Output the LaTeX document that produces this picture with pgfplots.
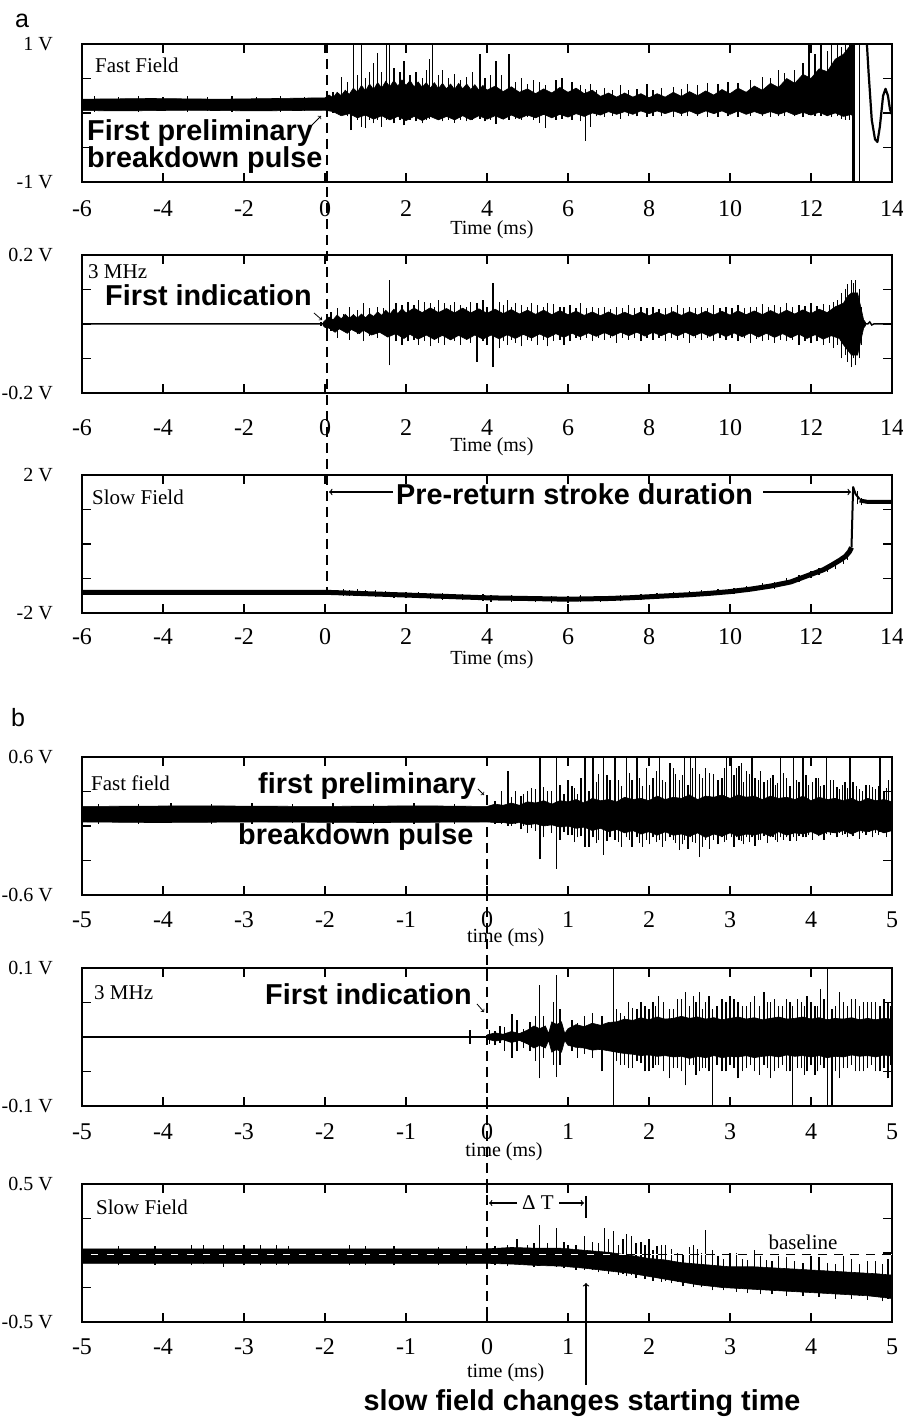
\documentclass[border=0pt]{standalone}
\usepackage{fontspec}
\setmainfont{Liberation Serif}
\newfontfamily\arial{Liberation Sans}
\usepackage{pgfplots}
\usepackage{pgfplotstable}
\pgfplotsset{compat=1.18}

\newcommand\lab{\fontsize{21}{24}\selectfont}
\newcommand\ann{\arial\bfseries\fontsize{28.8}{32}\selectfont}

\pgfplotsset{
  sig/.style={
    scale only axis, width=810pt, height=138pt, anchor=south west,
    axis line style={line width=1.6pt},
    tick style={line width=1.6pt, black},
    major tick length=9pt, tick align=inside,
    clip mode=individual,
    xticklabel style={anchor=center, font={\fontsize{24}{28}\selectfont}},
    yticklabel style={anchor=east, inner sep=0pt, xshift=-29pt, font={\fontsize{20}{24}\selectfont}},
    xlabel style={font={\fontsize{20}{24}\selectfont}, anchor=center},
  },
  band/.style={fill=black, draw=black, line width=0.6pt, line join=miter},
  spk/.style={draw=none, error bars/y dir=plus, error bars/y explicit, error bars/error mark=none,
    error bars/error bar style={draw=black, solid, line width=1.3pt}},
}

% ---------- spike tables: x, low end, high end ----------
\pgfplotstableread{
x lo hi
-5.7 0.02 0.24
-5.1 0.03 0.23
-4.6 0.02 0.24
-4.0 0.03 0.23
-3.4 0.02 0.24
-2.9 0.03 0.23
-2.3 0.02 0.24
-1.7 0.03 0.23
-1.1 0.02 0.24
-0.5 0.03 0.23
0.05 0.04 0.27
0.2 0.0 0.31
0.41 0.0 0.52
0.55 -0.05 0.45
0.64 -0.25 0.3
0.70 0.0 1.0
0.80 -0.1 0.55
0.905 -0.2 1.0
1.0 -0.22 0.5
1.1 -0.1 0.6
1.2 -0.15 0.72
1.3 -0.1 0.87
1.4 -0.2 0.6
1.51 -0.1 1.0
1.60 -0.05 1.0
1.7 -0.15 0.65
1.85 -0.1 0.6
1.95 -0.18 0.75
2.1 -0.1 0.55
2.25 -0.12 0.6
2.4 -0.15 0.5
2.5 -0.1 0.62
2.58 -0.08 0.78
2.66 -0.05 1.0
2.8 -0.1 0.55
2.9 -0.12 0.62
3.05 -0.1 0.5
3.2 -0.14 0.56
3.35 -0.1 0.48
3.5 -0.12 0.52
3.65 -0.1 0.6
3.83 -0.08 0.86
3.95 -0.12 0.5
4.08 -0.1 0.55
4.22 -0.16 0.76
4.35 -0.08 0.55
4.54 -0.1 0.86
4.7 -0.08 0.45
4.85 -0.1 0.5
5.0 -0.06 0.42
5.15 -0.1 0.48
5.3 -0.14 0.45
5.45 -0.22 0.4
5.7 -0.1 0.48
5.85 -0.08 0.5
6.1 -0.1 0.45
6.3 -0.12 0.4
6.44 -0.40 0.35
6.55 -0.2 0.42
6.7 -0.05 0.34
6.9 -0.06 0.36
7.1 -0.04 0.33
7.3 -0.08 0.4
7.5 -0.05 0.34
7.7 -0.05 0.35
7.95 -0.06 0.42
8.1 -0.04 0.33
8.3 -0.05 0.36
8.6 -0.06 0.38
8.8 -0.04 0.35
8.95 -0.05 0.42
9.2 -0.04 0.4
9.45 -0.06 0.44
9.7 -0.06 0.42
9.95 -0.05 0.45
10.2 -0.06 0.44
10.5 -0.04 0.48
10.8 -0.05 0.52
11.0 -0.06 0.5
11.2 -0.05 0.62
11.35 -0.04 0.58
11.6 -0.05 0.62
11.8 -0.06 0.72
11.95 -0.03 1.0
12.1 -0.05 0.85
12.25 -0.04 1.0
12.4 -0.05 0.9
12.5 -0.06 1.0
12.65 -0.05 1.0
12.75 -0.08 0.95
12.85 -0.1 1.0
12.95 -0.1 1.0
13.04 -1.0 1.0
13.07 -1.0 1.0
13.2 -1.0 1.0
}\spkA

\pgfplotstableread{
x lo hi
-0.1 -0.006 0.006
0.05 -0.03 0.03
0.15 -0.02 0.035
0.3 -0.04 0.045
0.45 -0.02 0.03
0.6 -0.045 0.05
0.7 -0.02 0.03
0.8 -0.03 0.04
0.95 -0.05 0.06
1.1 -0.035 0.045
1.3 -0.04 0.05
1.45 -0.03 0.045
1.6 -0.12 0.128
1.75 -0.05 0.06
1.9 -0.06 0.055
2.05 -0.05 0.065
2.2 -0.045 0.055
2.3 -0.06 0.07
2.45 -0.05 0.065
2.6 -0.065 0.06
2.7 -0.045 0.05
2.8 -0.055 0.07
2.95 -0.06 0.06
3.1 -0.045 0.055
3.2 -0.05 0.065
3.35 -0.06 0.055
3.5 -0.045 0.05
3.6 -0.055 0.065
3.75 -0.11 0.06
3.9 -0.05 0.07
4.0 -0.06 0.05
4.15 -0.125 0.12
4.3 -0.07 0.065
4.4 -0.05 0.055
4.5 -0.06 0.07
4.6 -0.045 0.05
4.7 -0.055 0.06
4.85 -0.065 0.055
5.0 -0.045 0.05
5.1 -0.05 0.06
5.25 -0.06 0.055
5.4 -0.045 0.05
5.5 -0.065 0.06
5.65 -0.05 0.058
5.8 -0.045 0.048
5.9 -0.06 0.05
6.05 -0.05 0.055
6.2 -0.04 0.045
6.3 -0.045 0.06
6.45 -0.04 0.045
6.6 -0.05 0.05
6.75 -0.04 0.045
6.9 -0.045 0.05
7.05 -0.04 0.044
7.2 -0.055 0.048
7.35 -0.04 0.045
7.5 -0.045 0.055
7.65 -0.04 0.045
7.8 -0.05 0.05
7.95 -0.04 0.046
8.1 -0.045 0.05
8.25 -0.04 0.044
8.4 -0.05 0.045
8.55 -0.04 0.048
8.7 -0.045 0.055
8.85 -0.04 0.045
9.0 -0.055 0.05
9.15 -0.04 0.046
9.3 -0.045 0.05
9.45 -0.04 0.045
9.6 -0.05 0.055
9.75 -0.042 0.046
9.9 -0.045 0.05
10.05 -0.04 0.047
10.2 -0.05 0.055
10.35 -0.042 0.046
10.5 -0.055 0.05
10.65 -0.044 0.048
10.8 -0.05 0.058
10.95 -0.045 0.05
11.1 -0.055 0.055
11.25 -0.045 0.05
11.4 -0.05 0.06
11.55 -0.045 0.05
11.7 -0.06 0.055
11.85 -0.048 0.052
12.0 -0.055 0.06
12.15 -0.05 0.052
12.3 -0.06 0.058
12.45 -0.055 0.055
12.55 -0.07 0.065
12.65 -0.06 0.07
12.75 -0.1 0.09
12.85 -0.09 0.1
12.9 -0.11 0.115
13.0 -0.125 0.128
13.05 -0.1 0.12
13.1 -0.12 0.128
13.2 -0.1 0.1
13.25 -0.06 0.05
}\spkB

\pgfplotstableread{
x lo hi
0.45 -1.5 -1.3
0.6 -1.5 -1.32
0.8 -1.52 -1.3
1.0 -1.52 -1.34
1.25 -1.53 -1.33
1.5 -1.55 -1.36
1.7 -1.56 -1.38
2.0 -1.57 -1.38
2.3 -1.58 -1.4
2.6 -1.6 -1.41
2.9 -1.61 -1.42
3.4 -1.63 -1.45
3.9 -1.65 -1.46
4.1 -1.68 -1.47
4.6 -1.67 -1.48
5.2 -1.68 -1.5
5.6 -1.7 -1.5
6.0 -1.7 -1.51
6.3 -1.69 -1.49
6.8 -1.68 -1.5
7.3 -1.66 -1.48
7.8 -1.63 -1.45
8.2 -1.6 -1.42
8.6 -1.58 -1.4
9.0 -1.55 -1.36
9.3 -1.52 -1.34
9.7 -1.48 -1.3
10.1 -1.45 -1.27
10.4 -1.4 -1.22
10.8 -1.33 -1.14
11.1 -1.3 -1.1
11.4 -1.2 -1.0
11.7 -1.1 -0.9
12.0 -0.98 -0.78
12.2 -0.9 -0.7
12.4 -0.8 -0.6
12.6 -0.72 -0.5
12.8 -0.58 -0.35
12.9 -0.46 -0.2
13.15 1.15 1.55
13.25 1.12 1.32
}\spkC

\pgfplotstableread{
x lo hi
-4.8 0.02 0.19
-4.3 0.02 0.19
-3.9 0.03 0.2
-3.4 0.02 0.19
-2.9 0.02 0.2
-2.4 0.03 0.19
-1.9 0.02 0.2
-1.4 0.02 0.19
-0.9 0.02 0.2
-0.4 0.02 0.19
0.1 0.02 0.22
0.18 0.02 0.3
0.26 0.0 0.48
0.3 0.0 0.25
0.35 0.02 0.3
0.42 -0.03 0.26
0.45 0.0 0.28
0.5 -0.06 0.3
0.55 -0.02 0.33
0.6 -0.04 0.32
0.654 -0.29 0.6
0.7 -0.1 0.34
0.75 0.0 0.3
0.8 -0.06 0.3
0.86 -0.37 0.6
0.9 -0.12 0.36
0.95 -0.05 0.28
1.0 -0.08 0.4
1.05 -0.08 0.35
1.08 -0.14 0.33
1.12 -0.1 0.28
1.16 -0.09 0.42
1.21 -0.18 0.6
1.26 -0.18 0.3
1.31 -0.1 0.6
1.35 -0.15 0.38
1.38 -0.12 0.45
1.44 -0.25 0.6
1.48 -0.13 0.44
1.52 -0.1 0.4
1.58 -0.12 0.6
1.62 -0.14 0.4
1.66 -0.18 0.35
1.72 -0.1 0.6
1.76 -0.12 0.46
1.79 -0.18 0.4
1.85 -0.1 0.6
1.88 -0.15 0.42
1.92 -0.18 0.35
1.97 -0.12 0.5
2.01 -0.16 0.36
2.05 -0.1 0.42
2.09 -0.14 0.48
2.13 -0.12 0.6
2.17 -0.18 0.4
2.2 -0.13 0.38
2.26 -0.1 0.55
2.3 -0.12 0.5
2.33 -0.15 0.45
2.38 -0.21 0.4
2.41 -0.16 0.44
2.44 -0.12 0.6
2.48 -0.2 0.36
2.51 -0.1 0.6
2.54 -0.14 0.5
2.57 -0.15 0.6
2.62 -0.27 0.45
2.66 -0.18 0.42
2.7 -0.12 0.5
2.75 -0.2 0.46
2.8 -0.12 0.45
2.85 -0.16 0.4
2.9 -0.1 0.42
2.93 -0.14 0.5
2.96 -0.12 0.6
3.02 -0.1 0.6
3.05 -0.18 0.44
3.08 -0.1 0.5
3.11 -0.12 0.52
3.14 -0.13 0.55
3.17 -0.16 0.38
3.2 -0.1 0.48
3.24 -0.14 0.45
3.27 -0.1 0.6
3.31 -0.17 0.42
3.35 -0.12 0.4
3.38 -0.12 0.48
3.42 -0.09 0.38
3.46 -0.15 0.4
3.5 -0.1 0.42
3.53 -0.1 0.44
3.56 -0.12 0.36
3.59 -0.14 0.37
3.62 -0.1 0.6
3.66 -0.12 0.46
3.7 -0.1 0.42
3.74 -0.13 0.35
3.78 -0.1 0.6
3.82 -0.13 0.4
3.85 -0.09 0.38
3.9 -0.1 0.6
3.94 -0.1 0.44
3.97 -0.08 0.36
4.02 -0.12 0.38
4.06 -0.06 0.42
4.09 -0.09 0.42
4.12 -0.08 0.35
4.16 -0.12 0.36
4.19 -0.07 0.6
4.24 -0.08 0.4
4.28 -0.06 0.4
4.32 -0.1 0.34
4.35 -0.06 0.32
4.39 -0.08 0.36
4.42 -0.07 0.38
4.45 -0.1 0.33
4.48 -0.06 0.6
4.52 -0.09 0.38
4.56 -0.05 0.35
4.6 -0.11 0.32
4.64 -0.06 0.3
4.68 -0.08 0.36
4.72 -0.05 0.36
4.76 -0.1 0.34
4.8 -0.06 0.32
4.83 -0.08 0.35
4.85 -0.05 0.6
4.9 -0.06 0.3
4.93 -0.1 0.33
4.96 -0.05 0.4
4.99 -0.07 0.31
}\spkD

\pgfplotstableread{
x lo hi
-0.21 -0.01 0.01
0.03 -0.01 0.01
0.1 -0.012 0.008
0.16 -0.008 0.016
0.22 -0.02 0.014
0.31 -0.03 0.033
0.37 -0.02 0.025
0.45 -0.016 0.012
0.53 -0.02 0.022
0.6 -0.035 0.03
0.65 -0.06 0.075
0.7 -0.03 0.03
0.82 -0.04 0.05
0.86 -0.058 0.09
0.9 -0.04 0.04
1.05 -0.02 0.025
1.12 -0.03 0.02
1.2 -0.025 0.03
1.3 -0.03 0.035
1.42 -0.05 0.03
1.56 -0.1 0.1
1.6 -0.035 0.04
1.65 -0.04 0.035
1.7 -0.04 0.03
1.75 -0.045 0.05
1.8 -0.045 0.042
1.85 -0.035 0.04
1.9 -0.038 0.05
1.95 -0.05 0.045
2.0 -0.05 0.04
2.05 -0.045 0.05
2.08 -0.04 0.045
2.12 -0.04 0.06
2.18 -0.05 0.05
2.25 -0.06 0.04
2.3 -0.045 0.04
2.35 -0.045 0.055
2.4 -0.05 0.055
2.45 -0.07 0.065
2.5 -0.04 0.045
2.55 -0.04 0.06
2.58 -0.055 0.05
2.62 -0.05 0.065
2.66 -0.045 0.04
2.7 -0.045 0.05
2.74 -0.05 0.06
2.78 -0.1 0.04
2.84 -0.04 0.045
2.9 -0.05 0.055
2.95 -0.05 0.05
3.0 -0.04 0.06
3.05 -0.045 0.055
3.1 -0.06 0.05
3.15 -0.05 0.045
3.2 -0.045 0.045
3.25 -0.04 0.05
3.3 -0.05 0.06
3.36 -0.055 0.045
3.42 -0.04 0.065
3.46 -0.045 0.05
3.5 -0.06 0.05
3.55 -0.05 0.055
3.6 -0.045 0.045
3.65 -0.04 0.045
3.7 -0.05 0.055
3.74 -0.05 0.05
3.77 -0.1 0.045
3.83 -0.045 0.055
3.88 -0.045 0.05
3.92 -0.055 0.045
3.95 -0.05 0.06
4.0 -0.04 0.05
4.05 -0.055 0.045
4.08 -0.05 0.045
4.12 -0.04 0.07
4.16 -0.045 0.055
4.2 -0.1 0.1
4.26 -0.1 0.04
4.3 -0.05 0.045
4.35 -0.06 0.065
4.4 -0.045 0.05
4.45 -0.045 0.045
4.5 -0.04 0.055
4.55 -0.05 0.055
4.6 -0.05 0.045
4.65 -0.05 0.05
4.7 -0.045 0.05
4.75 -0.04 0.05
4.8 -0.05 0.05
4.85 -0.05 0.045
4.9 -0.045 0.055
4.95 -0.06 0.05
4.98 -0.04 0.045
}\spkE

\pgfplotstableread{
x lo hi
-4.55 -0.09 0.05
-4.1 -0.085 0.05
-3.65 -0.09 0.06
-3.5 -0.08 0.055
-3.25 -0.1 0.06
-3.0 -0.09 0.06
-2.8 -0.09 0.055
-2.6 -0.085 0.06
-2.45 -0.09 0.05
-1.7 -0.09 0.055
-1.5 -0.085 0.05
-1.15 -0.09 0.05
-0.6 -0.085 0.045
-0.25 -0.09 0.05
0.1 -0.09 0.05
0.25 -0.095 0.06
0.37 -0.08 0.105
0.5 -0.09 0.06
0.58 -0.1 0.07
0.65 -0.09 0.2
0.75 -0.09 0.07
0.86 -0.1 0.18
0.95 -0.11 0.08
1.0 -0.1 0.06
1.1 -0.12 0.06
1.2 -0.12 0.126
1.3 -0.12 0.08
1.38 -0.14 0.07
1.45 -0.13 0.18
1.5 -0.15 0.1
1.56 -0.14 0.16
1.62 -0.16 0.06
1.68 -0.15 0.1
1.72 -0.17 0.14
1.78 -0.16 0.12
1.84 -0.18 0.07
1.9 -0.16 0.08
1.95 -0.19 0.06
2.0 -0.17 0.1
2.05 -0.2 0.02
2.1 -0.18 0.05
2.15 -0.21 0.06
2.2 -0.2 0.06
2.28 -0.22 0.03
2.35 -0.21 0.0
2.42 -0.24 -0.01
2.5 -0.22 0.04
2.55 -0.25 0.06
2.6 -0.23 0.03
2.65 -0.25 0.0
2.7 -0.24 0.17
2.78 -0.27 0.02
2.85 -0.24 -0.02
2.92 -0.27 -0.04
3.0 -0.25 0.0
3.08 -0.28 0.0
3.15 -0.26 -0.04
3.22 -0.29 -0.05
3.3 -0.26 0.02
3.38 -0.3 -0.02
3.45 -0.27 -0.05
3.52 -0.3 -0.06
3.6 -0.27 -0.02
3.7 -0.31 -0.03
3.8 -0.28 -0.06
3.9 -0.31 -0.07
4.0 -0.28 -0.02
4.1 -0.32 -0.03
4.2 -0.29 -0.07
4.3 -0.33 -0.08
4.4 -0.3 -0.02
4.5 -0.33 -0.04
4.6 -0.31 -0.08
4.7 -0.34 -0.06
4.8 -0.32 -0.06
4.88 -0.35 -0.08
4.95 -0.33 -0.04
}\spkF

\begin{document}
\begin{tikzpicture}[x=1pt,y=1pt]
\path[use as bounding box] (0,0) rectangle (902,1423);

% ================= a1: Fast Field =================
\begin{axis}[sig, at={(82pt,1241pt)},
  xmin=-6, xmax=14, ymin=-1, ymax=1,
  xtick={-6,-4,-2,0,2,4,6,8,10,12,14}, xticklabels={-6,-4,-2,0,2,4,6,8,10,12,14},
  ytick={-1,-0.5,0,0.5,1}, yticklabels={-1 V,,,,1 V},
  xticklabel style={yshift=-27pt},
  xlabel={Time (ms)}, xlabel style={at={(axis description cs:0.506,0)}, yshift=-48pt}]
\addplot[band] coordinates {
(-6,0.2) (-4.3,0.21) (-2.6,0.2) (-1.2,0.21)
(0.0,0.22) (0.1,0.26) (0.2,0.22) (0.3,0.3) (0.4,0.25) (0.5,0.33) (0.6,0.27) (0.7,0.36) (0.8,0.3) (0.9,0.4) (1.0,0.32) (1.1,0.42) (1.2,0.34)
(1.3,0.44) (1.4,0.36) (1.5,0.46) (1.6,0.38) (1.7,0.47) (1.8,0.39) (1.9,0.48) (2.0,0.4) (2.1,0.47) (2.2,0.38) (2.3,0.45) (2.4,0.37) (2.5,0.44)
(2.6,0.36) (2.7,0.44) (2.8,0.35) (2.9,0.43) (3.0,0.35) (3.1,0.42) (3.2,0.34) (3.3,0.43) (3.4,0.35) (3.5,0.42) (3.6,0.34) (3.7,0.41) (3.8,0.33)
(3.9,0.4) (4.0,0.33) (4.2,0.39) (4.4,0.31) (4.6,0.38) (4.8,0.3) (5.0,0.35) (5.2,0.28) (5.4,0.35) (5.6,0.29) (5.8,0.37) (6.0,0.3) (6.2,0.36)
(6.4,0.28) (6.6,0.33) (6.8,0.24) (7.0,0.29) (7.2,0.23) (7.4,0.29) (7.6,0.23) (7.8,0.28) (8.0,0.22) (8.2,0.28) (8.4,0.23) (8.6,0.3) (8.8,0.24)
(9.0,0.31) (9.2,0.25) (9.4,0.32) (9.6,0.26) (9.8,0.34) (10.0,0.28) (10.2,0.36) (10.4,0.3) (10.6,0.39) (10.8,0.33) (11.0,0.43) (11.2,0.37)
(11.4,0.5) (11.6,0.43) (11.8,0.56) (12.0,0.5) (12.2,0.64) (12.4,0.6) (12.6,0.78) (12.8,0.85) (13.0,1.0) (13.06,1.0)
(13.06,-0.1) (13.0,-0.02) (12.8,-0.05) (12.6,0.0) (12.4,-0.04) (12.2,0.01) (12.0,-0.03) (11.8,0.01) (11.6,-0.03) (11.4,0.02) (11.2,-0.02)
(11.0,0.02) (10.8,-0.02) (10.6,0.02) (10.4,-0.02) (10.2,0.03) (10.0,-0.02) (9.8,0.03) (9.6,-0.01) (9.4,0.03) (9.2,-0.02) (9.0,0.03) (8.8,-0.01)
(8.6,0.03) (8.4,-0.01) (8.2,0.03) (8.0,-0.01) (7.8,0.03) (7.6,-0.02) (7.4,0.02) (7.2,-0.02) (7.0,0.02) (6.8,-0.03) (6.6,0.0) (6.4,-0.05)
(6.2,-0.01) (6.0,-0.06) (5.8,-0.02) (5.6,-0.07) (5.4,-0.02) (5.2,-0.07) (5.0,-0.03) (4.8,-0.08) (4.6,-0.03) (4.4,-0.09) (4.2,-0.04) (4.0,-0.09)
(3.8,-0.04) (3.6,-0.1) (3.4,-0.04) (3.2,-0.1) (3.0,-0.05) (2.8,-0.1) (2.6,-0.05) (2.4,-0.11) (2.2,-0.05) (2.0,-0.11) (1.8,-0.05) (1.6,-0.1)
(1.4,-0.04) (1.2,-0.09) (1.0,-0.03) (0.8,-0.07) (0.6,-0.01) (0.4,-0.04) (0.2,0.02) (0.0,0.04)
(-1.7,0.03) (-3.4,0.04) (-5,0.03) (-6,0.035)};
\addplot[spk] table[x=x, y=lo, y error plus expr=\thisrow{hi}-\thisrow{lo}] {\spkA};
\addplot[black, line width=2.2pt, line join=round] coordinates {
(13.38,1.0) (13.42,0.6) (13.5,-0.1) (13.58,-0.38) (13.64,-0.42) (13.7,-0.2) (13.78,0.25) (13.84,0.35) (13.9,0.25) (13.95,0.05) (14.0,-0.02)};
\end{axis}

% ================= a2: 3 MHz =================
\begin{axis}[sig, at={(82pt,1030pt)},
  xmin=-6, xmax=14, ymin=-0.2, ymax=0.2,
  xtick={-6,-4,-2,0,2,4,6,8,10,12,14}, xticklabels={-6,-4,-2,0,2,4,6,8,10,12,14},
  ytick={-0.2,-0.1,0,0.1,0.2}, yticklabels={-0.2 V,,,,0.2 V},
  xticklabel style={yshift=-35pt},
  xlabel={Time (ms)}, xlabel style={at={(axis description cs:0.506,0)}, yshift=-54pt}]
\addplot[black, line width=1.5pt] coordinates {(-6,0) (13.4,0) (13.45,0.006) (13.5,-0.003) (13.55,0) (14,0)};
\addplot[band] coordinates {
(-0.05,0.004) (0.0,0.01) (0.1,0.02) (0.2,0.012) (0.3,0.026) (0.4,0.015) (0.5,0.028) (0.6,0.016) (0.7,0.027) (0.8,0.017) (0.9,0.029) (1.0,0.018)
(1.1,0.03) (1.2,0.022) (1.3,0.035) (1.4,0.025) (1.5,0.04) (1.6,0.028) (1.7,0.043) (1.8,0.03) (1.9,0.045) (2.0,0.032) (2.2,0.046) (2.4,0.033)
(2.6,0.047) (2.8,0.033) (3.0,0.045) (3.2,0.032) (3.4,0.046) (3.6,0.032) (3.8,0.044) (4.0,0.031) (4.2,0.043) (4.4,0.03) (4.6,0.042) (4.8,0.029)
(5.0,0.04) (5.2,0.028) (5.4,0.04) (5.6,0.027) (5.8,0.039) (6.0,0.027) (6.2,0.037) (6.4,0.025) (6.6,0.035) (6.8,0.024) (7.0,0.035) (7.2,0.024)
(7.4,0.034) (7.6,0.024) (7.8,0.035) (8.0,0.024) (8.2,0.034) (8.4,0.025) (8.6,0.036) (8.8,0.025) (9.0,0.036) (9.2,0.026) (9.4,0.037) (9.6,0.026)
(9.8,0.037) (10.0,0.026) (10.2,0.038) (10.4,0.027) (10.6,0.038) (10.8,0.027) (11.0,0.039) (11.2,0.028) (11.4,0.04) (11.6,0.029) (11.8,0.041)
(12.0,0.03) (12.2,0.043) (12.4,0.033) (12.6,0.05) (12.8,0.06) (12.9,0.08) (13.0,0.09) (13.15,0.09) (13.3,0.012) (13.35,0.004)
(13.35,-0.004) (13.3,-0.012) (13.15,-0.09) (13.0,-0.09) (12.9,-0.075) (12.8,-0.06) (12.7,-0.042) (12.5,-0.034) (12.3,-0.044) (12.1,-0.031)
(11.9,-0.042) (11.7,-0.029) (11.5,-0.04) (11.3,-0.028) (11.1,-0.039) (10.9,-0.027) (10.7,-0.038) (10.5,-0.026) (10.3,-0.037) (10.1,-0.026)
(9.9,-0.037) (9.7,-0.025) (9.5,-0.036) (9.3,-0.025) (9.1,-0.035) (8.9,-0.024) (8.7,-0.035) (8.5,-0.024) (8.3,-0.034) (8.1,-0.024) (7.9,-0.035)
(7.7,-0.024) (7.5,-0.034) (7.3,-0.024) (7.1,-0.035) (6.9,-0.025) (6.7,-0.036) (6.5,-0.026) (6.3,-0.037) (6.1,-0.027) (5.9,-0.039) (5.7,-0.028)
(5.5,-0.04) (5.3,-0.029) (5.1,-0.041) (4.9,-0.03) (4.7,-0.042) (4.5,-0.031) (4.3,-0.043) (4.1,-0.032) (3.9,-0.044) (3.7,-0.032) (3.5,-0.045)
(3.3,-0.033) (3.1,-0.046) (2.9,-0.033) (2.7,-0.045) (2.5,-0.032) (2.3,-0.044) (2.1,-0.03) (1.95,-0.042) (1.75,-0.028) (1.55,-0.038) (1.35,-0.024)
(1.15,-0.032) (0.95,-0.018) (0.85,-0.028) (0.65,-0.016) (0.55,-0.027) (0.35,-0.014) (0.25,-0.024) (0.1,-0.012) (0.0,-0.01) (-0.05,-0.004)};
\addplot[spk] table[x=x, y=lo, y error plus expr=\thisrow{hi}-\thisrow{lo}] {\spkB};
\end{axis}

% ================= a3: Slow Field =================
\begin{axis}[sig, at={(82pt,810pt)},
  xmin=-6, xmax=14, ymin=-2, ymax=2,
  xtick={-6,-4,-2,0,2,4,6,8,10,12,14}, xticklabels={-6,-4,-2,0,2,4,6,8,10,12,14},
  ytick={-2,-1,0,1,2}, yticklabels={-2 V,,,,2 V},
  xticklabel style={yshift=-24pt},
  xlabel={Time (ms)}, xlabel style={at={(axis description cs:0.506,0)}, yshift=-47pt}]
\addplot[black, line width=5pt, line join=round] coordinates {
(-6,-1.40) (0,-1.40) (0.5,-1.42) (1,-1.44) (1.5,-1.46) (2,-1.48) (2.5,-1.50) (3,-1.52) (3.5,-1.54) (4,-1.56) (4.5,-1.57) (5,-1.58) (5.5,-1.59) (6,-1.6)
(6.5,-1.59) (7,-1.58) (7.5,-1.56) (8,-1.53) (8.5,-1.5) (9,-1.47) (9.5,-1.43) (10,-1.38) (10.5,-1.31) (11,-1.22) (11.5,-1.1) (12,-0.88) (12.3,-0.75)
(12.5,-0.62) (12.7,-0.48) (12.85,-0.36) (12.95,-0.22) (13.0,-0.1)};
\addplot[black, line width=2pt, line join=round] coordinates {(13.0,-0.1) (13.04,1.65) (13.1,1.45) (13.2,1.3)};
\addplot[black, line width=4pt] coordinates {(13.2,1.26) (13.4,1.22) (14,1.22)};
\addplot[spk] table[x=x, y=lo, y error plus expr=\thisrow{hi}-\thisrow{lo}] {\spkC};
\end{axis}

% ================= b1: Fast field =================
\begin{axis}[sig, at={(82pt,528pt)},
  xmin=-5, xmax=5, ymin=-0.6, ymax=0.6,
  xtick={-5,-4,-3,-2,-1,0,1,2,3,4,5}, xticklabels={-5,-4,-3,-2,-1,0,1,2,3,4,5},
  ytick={-0.6,-0.3,0,0.3,0.6}, yticklabels={-0.6 V,,,,0.6 V},
  xticklabel style={yshift=-25pt},
  xlabel={time (ms)}, xlabel style={at={(axis description cs:0.523,0)}, yshift=-43pt}]
\addplot[band] coordinates {
(-5,0.17) (-3.6,0.175) (-2.1,0.17) (-0.8,0.175)
(0.0,0.17) (0.1,0.19) (0.2,0.18) (0.3,0.2) (0.4,0.18) (0.5,0.21) (0.6,0.2) (0.7,0.22) (0.8,0.19) (0.9,0.22) (1.0,0.21) (1.1,0.23) (1.2,0.2)
(1.3,0.24) (1.4,0.22) (1.5,0.23) (1.6,0.21) (1.7,0.25) (1.8,0.23) (1.9,0.24) (2.0,0.22) (2.1,0.26) (2.2,0.23) (2.3,0.25) (2.4,0.24) (2.5,0.27)
(2.6,0.23) (2.7,0.26) (2.8,0.25) (2.9,0.27) (3.0,0.24) (3.1,0.27) (3.2,0.25) (3.3,0.26) (3.4,0.23) (3.5,0.26) (3.6,0.24) (3.7,0.25) (3.8,0.23)
(3.9,0.26) (4.0,0.22) (4.1,0.25) (4.2,0.23) (4.3,0.24) (4.4,0.22) (4.5,0.24) (4.6,0.21) (4.7,0.24) (4.8,0.22) (4.9,0.23) (5.0,0.21)
(5.0,-0.04) (4.9,-0.06) (4.8,-0.03) (4.7,-0.05) (4.6,-0.04) (4.5,-0.07) (4.4,-0.04) (4.3,-0.06) (4.2,-0.05) (4.1,-0.08) (4.0,-0.05) (3.9,-0.07)
(3.8,-0.06) (3.7,-0.08) (3.6,-0.05) (3.5,-0.09) (3.4,-0.06) (3.3,-0.08) (3.2,-0.07) (3.1,-0.09) (3.0,-0.06) (2.9,-0.09) (2.8,-0.07) (2.7,-0.1)
(2.6,-0.06) (2.5,-0.09) (2.4,-0.07) (2.3,-0.08) (2.2,-0.05) (2.1,-0.08) (2.0,-0.05) (1.9,-0.07) (1.8,-0.04) (1.7,-0.06) (1.6,-0.03) (1.5,-0.05)
(1.4,-0.02) (1.3,-0.04) (1.2,-0.01) (1.1,-0.02) (1.0,0.0) (0.9,-0.01) (0.8,0.01) (0.7,0.0) (0.6,0.02) (0.5,0.01) (0.4,0.03) (0.3,0.02)
(0.2,0.03) (0.1,0.03) (0.0,0.035)
(-1.4,0.03) (-2.8,0.035) (-4.1,0.03) (-5,0.035)};
\addplot[spk] table[x=x, y=lo, y error plus expr=\thisrow{hi}-\thisrow{lo}] {\spkD};
\end{axis}

% ================= b2: 3 MHz =================
\begin{axis}[sig, at={(82pt,317pt)},
  xmin=-5, xmax=5, ymin=-0.1, ymax=0.1,
  xtick={-5,-4,-3,-2,-1,0,1,2,3,4,5}, xticklabels={-5,-4,-3,-2,-1,0,1,2,3,4,5},
  ytick={-0.1,-0.05,0,0.05,0.1}, yticklabels={-0.1 V,,,,0.1 V},
  xticklabel style={yshift=-26pt},
  xlabel={time (ms)}, xlabel style={at={(axis description cs:0.521,0)}, yshift=-46pt}]
\addplot[black, line width=1.5pt] coordinates {(-5,0) (5,0)};
\addplot[band] coordinates {
(0.0,0.003) (0.1,0.006) (0.2,0.004) (0.3,0.008) (0.4,0.005) (0.5,0.01) (0.58,0.016) (0.65,0.012) (0.72,0.016) (0.76,0.005) (0.8,0.022)
(0.86,0.018) (0.92,0.022) (0.96,0.005) (1.0,0.012) (1.1,0.018) (1.2,0.015) (1.3,0.02) (1.4,0.017) (1.5,0.021) (1.6,0.022) (1.7,0.026)
(1.8,0.024) (1.9,0.028) (2.0,0.025) (2.1,0.029) (2.2,0.026) (2.3,0.027) (2.4,0.03) (2.5,0.027) (2.6,0.029) (2.7,0.026) (2.8,0.028)
(2.9,0.025) (3.0,0.027) (3.1,0.029) (3.2,0.026) (3.3,0.028) (3.4,0.025) (3.5,0.027) (3.6,0.029) (3.7,0.026) (3.8,0.027) (3.9,0.029)
(4.0,0.026) (4.1,0.028) (4.2,0.025) (4.3,0.027) (4.4,0.026) (4.5,0.028) (4.6,0.025) (4.7,0.027) (4.8,0.025) (4.9,0.027) (5.0,0.026)
(5.0,-0.028) (4.9,-0.026) (4.8,-0.029) (4.7,-0.027) (4.6,-0.028) (4.5,-0.026) (4.4,-0.029) (4.3,-0.028) (4.2,-0.03) (4.1,-0.027)
(4.0,-0.029) (3.9,-0.027) (3.8,-0.028) (3.7,-0.026) (3.6,-0.029) (3.5,-0.027) (3.4,-0.028) (3.3,-0.03) (3.2,-0.027) (3.1,-0.029)
(3.0,-0.028) (2.9,-0.03) (2.8,-0.027) (2.7,-0.03) (2.6,-0.028) (2.5,-0.031) (2.4,-0.028) (2.3,-0.029) (2.2,-0.027) (2.1,-0.028)
(2.0,-0.026) (1.9,-0.027) (1.8,-0.025) (1.7,-0.024) (1.6,-0.022) (1.5,-0.02) (1.4,-0.018) (1.3,-0.019) (1.2,-0.016) (1.1,-0.015)
(1.0,-0.012) (0.96,-0.005) (0.92,-0.022) (0.86,-0.018) (0.8,-0.022) (0.76,-0.005) (0.72,-0.016) (0.65,-0.012) (0.58,-0.016)
(0.5,-0.01) (0.4,-0.005) (0.3,-0.008) (0.2,-0.004) (0.1,-0.006) (0.0,-0.003)};
\addplot[spk] table[x=x, y=lo, y error plus expr=\thisrow{hi}-\thisrow{lo}] {\spkE};
\end{axis}

% ================= b3: Slow Field =================
\begin{axis}[sig, at={(82pt,101pt)},
  xmin=-5, xmax=5, ymin=-0.5, ymax=0.5,
  xtick={-5,-4,-3,-2,-1,0,1,2,3,4,5}, xticklabels={-5,-4,-3,-2,-1,0,1,2,3,4,5},
  ytick={-0.5,-0.25,0,0.25,0.5}, yticklabels={-0.5 V,,,,0.5 V},
  xticklabel style={yshift=-25pt},
  xlabel={time (ms)}, xlabel style={at={(axis description cs:0.523,0)}, yshift=-51pt}]
\addplot[band] coordinates {
(-5,0.03) (0,0.03) (0.3,0.04) (0.6,0.035) (0.9,0.035) (1.2,0.02) (1.5,0.005) (1.8,-0.02) (2.0,-0.04) (2.2,-0.05) (2.4,-0.07) (2.6,-0.08)
(2.8,-0.09) (3.0,-0.1) (3.3,-0.1) (3.6,-0.11) (3.9,-0.12) (4.2,-0.13) (4.5,-0.14) (4.8,-0.15) (5.0,-0.16)
(5.0,-0.33) (4.7,-0.31) (4.4,-0.3) (4.1,-0.29) (3.8,-0.28) (3.5,-0.27) (3.2,-0.26) (2.9,-0.25) (2.6,-0.23) (2.4,-0.21) (2.2,-0.19)
(2.0,-0.17) (1.8,-0.15) (1.5,-0.13) (1.2,-0.11) (0.9,-0.095) (0.6,-0.09) (0.3,-0.08) (0,-0.075) (-5,-0.075)};
\addplot[spk] table[x=x, y=lo, y error plus expr=\thisrow{hi}-\thisrow{lo}] {\spkF};
\addplot[black, line width=1.5pt, dash pattern=on 9pt off 7pt] coordinates {(-5,-0.012) (5,-0.012)};
\addplot[white, line width=1.5pt, dash pattern=on 7pt off 9pt, dash phase=7pt] coordinates {(-5,-0.012) (5,-0.012)};
\end{axis}

% ================= annotations =================
\node[font={\arial\fontsize{25}{28}\selectfont}] at (22,1402) {a};
\node[font={\arial\fontsize{25}{28}\selectfont}] at (18,705) {b};

% a1
\node[anchor=west, inner sep=0pt, font=\lab] at (95,1358) {Fast Field};
\node[anchor=west, inner sep=0pt, font=\ann] at (87,1290) {First preliminary};
\node[anchor=west, inner sep=0pt, font=\ann] at (87,1263) {breakdown pulse};
\draw[->, line width=0.8pt] (312,1298) -- (321,1307);
% a2
\node[anchor=west, inner sep=0pt, font=\lab] at (88,1151) {3 MHz};
\node[anchor=west, inner sep=0pt, font=\ann] at (105,1128) {First indication};
\draw[->, line width=0.8pt] (314,1110) -- (322,1103);
% a3
\node[anchor=west, inner sep=0pt, font=\lab] at (92,926) {Slow Field};
\node[anchor=west, inner sep=0pt, font=\ann] at (396,929) {Pre-return stroke duration};
\draw[->, line width=1.3pt] (393,931) -- (329,931);
\draw[->, line width=1.3pt] (763,931) -- (851,931);
\draw[line width=1.5pt, dash pattern=on 10pt off 6pt] (327,1380) -- (327,833);

% b1
\node[anchor=west, inner sep=0pt, font=\lab] at (91,640) {Fast field};
\node[anchor=west, inner sep=0pt, font=\ann] at (258,637) {first preliminary};
\node[anchor=west, inner sep=0pt, font=\ann] at (238,586) {breakdown pulse};
\draw[->, line width=0.8pt] (478,634) -- (484,628);
% b2
\node[anchor=west, inner sep=0pt, font=\lab] at (94,430) {3 MHz};
\node[anchor=west, inner sep=0pt, font=\ann] at (265,429) {First indication};
\draw[->, line width=0.8pt] (477,419) -- (484,411);
% b3
\node[anchor=west, inner sep=0pt, font=\lab] at (96,216) {Slow Field};
\node[font=\lab] at (803,181) {baseline};
\draw[->, line width=1.2pt] (517,220) -- (489,220);
\node[font=\lab] at (538,220) {Δ T};
\draw[->, line width=1.2pt] (559,220) -- (584,220);
\draw[line width=1.2pt] (586,227) -- (586,205);
\draw[->, line width=1.3pt] (586,38) -- (586,140);
\node[font=\ann] at (582,20) {slow field changes starting time};
\draw[line width=1.5pt, dash pattern=on 10pt off 6pt] (487,628) -- (487,103);
\end{tikzpicture}
\end{document}
